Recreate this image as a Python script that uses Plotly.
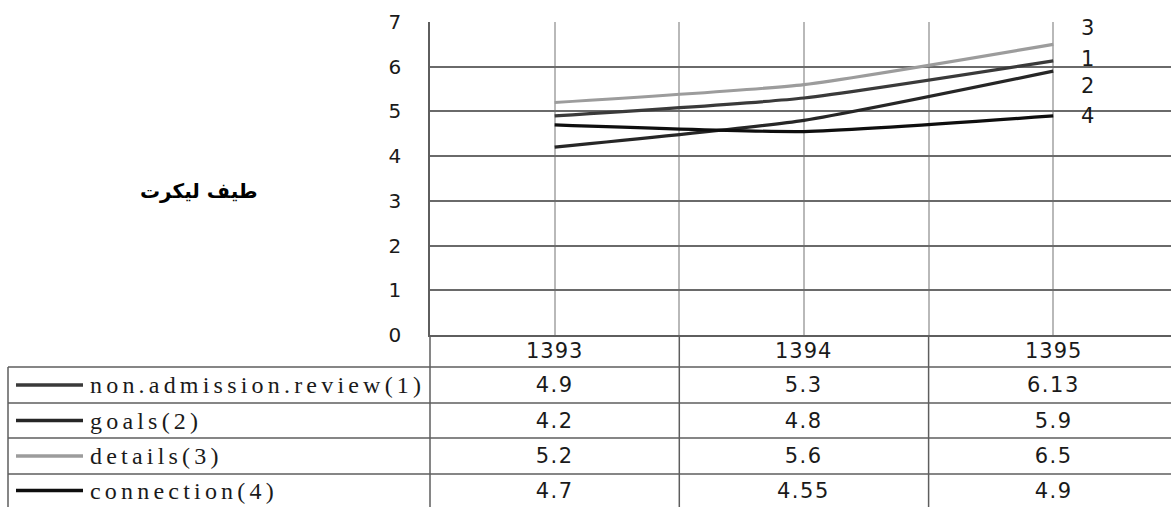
import json
import plotly.graph_objects as go

# ---- data -------------------------------------------------------------
years = ["1393", "1394", "1395"]
series_names = ["non.admission.review(1)", "goals(2)", "details(3)", "connection(4)"]
end_labels = ["1", "2", "3", "4"]
review = [4.9, 5.3, 6.13]
goals = [4.2, 4.8, 5.9]
details = [5.2, 5.6, 6.5]
connection = [4.7, 4.55, 4.9]
y_title = "طيف ليكرت"

series_values = [review, goals, details, connection]
colors = ["#3a3a3a", "#262626", "#9c9c9c", "#0e0e0e"]
# vertical nudge (px) of the end-of-line numbers so they do not collide
label_shift = [2, -15, 16, 0]

# ---- geometry helpers (pixel -> paper) -------------------------------
W, H = 1171, 507
L, T, R, B = 430, 22, 0, 172
PW = W - L - R
PH = H - T - B


def px(x):
    return (x - L) / PW


def py(y):
    return (H - B - y) / PH


xs = list(range(len(years)))
unit = 249.3
x_range = [-0.5, -0.5 + PW / unit]

fig = go.Figure()
for name, vals, col in zip(series_names, series_values, colors):
    fig.add_trace(go.Scatter(
        x=xs, y=vals, mode="lines", name=name,
        line=dict(color=col, width=3.2, shape="spline", smoothing=0.5),
        showlegend=False, hoverinfo="skip",
    ))

grid_dark = "#6a6a6a"
grid_light = "#b9b9b9"
table_col = "#5e5e5e"

shapes = []
# table horizontal rules (legend rows)
row_edges = [367, 403, 438, 474]
for yy in row_edges:
    shapes.append(dict(type="line", xref="paper", yref="paper",
                       x0=px(8), x1=1, y0=py(yy), y1=py(yy),
                       line=dict(color=table_col, width=1.5)))
# table verticals
shapes.append(dict(type="line", xref="paper", yref="paper",
                   x0=px(8), x1=px(8), y0=py(367), y1=py(H + 2),
                   line=dict(color=table_col, width=1.5)))
shapes.append(dict(type="line", xref="paper", yref="paper",
                   x0=0, x1=0, y0=py(H + 2), y1=0,
                   line=dict(color=table_col, width=1.5)))
for xb in [i + 0.5 for i in xs[:-1]]:
    shapes.append(dict(type="line", xref="x", yref="paper",
                       x0=xb, x1=xb, y0=py(H + 2), y1=0,
                       line=dict(color=table_col, width=1.5)))

# legend keys inside the table
row_centers = [385, 420.5, 456, 490.5]
for yc, col in zip(row_centers, colors):
    shapes.append(dict(type="line", xref="paper", yref="paper",
                       x0=px(16), x1=px(83), y0=py(yc), y1=py(yc),
                       line=dict(color=col, width=3.5)))

annotations = []
spacing = []
num_font = dict(family="DejaVu Sans", size=21, color="#1a1a1a")

# year header row
for xi, yr in zip(xs, years):
    annotations.append(dict(x=xi, y=py(351), xref="x", yref="paper",
                            text=yr, showarrow=False, font=num_font,
                            xanchor="center", yanchor="middle"))
    spacing.append(1)

# legend names and values
for yc, name, vals in zip(row_centers, series_names, series_values):
    annotations.append(dict(x=px(88), y=py(yc), xref="paper", yref="paper",
                            text=name, showarrow=False, align="left",
                            font=dict(family="Liberation Serif", size=24, color="#1a1a1a"),
                            xanchor="left", yanchor="middle"))
    spacing.append(4.2)
    for xi, v in zip(xs, vals):
        annotations.append(dict(x=xi, y=py(yc), xref="x", yref="paper",
                                text=f"{v:g}", showarrow=False, font=num_font,
                                xanchor="center", yanchor="middle"))
        spacing.append(1.5)

# series numbers at line ends
for lab, vals, dy in zip(end_labels, series_values, label_shift):
    annotations.append(dict(x=xs[-1], y=vals[-1], xref="x", yref="y",
                            text=lab, showarrow=False, font=num_font,
                            xshift=34, yshift=dy,
                            xanchor="center", yanchor="middle"))
    spacing.append(0)

# axis title
annotations.append(dict(x=px(199), y=py(191), xref="paper", yref="paper",
                        text=f"<b>{y_title}</b>", showarrow=False,
                        font=dict(family="DejaVu Sans", size=20, color="#000"),
                        xanchor="center", yanchor="middle"))
spacing.append(0)

fig.update_layout(
    width=W, height=H,
    margin=dict(l=L, r=R, t=T, b=B, pad=0),
    paper_bgcolor="white", plot_bgcolor="white",
    shapes=shapes, annotations=annotations,
    xaxis=dict(range=x_range, tick0=-0.5, dtick=0.5, showticklabels=False,
               ticks="", showgrid=True, gridcolor=grid_light, gridwidth=1.6,
               zeroline=False, showline=True, linecolor=table_col, linewidth=1.6,
               fixedrange=True),
    yaxis=dict(range=[0, 7], dtick=1, ticks="", showgrid=True,
               gridcolor=grid_dark, gridwidth=1.5, zeroline=False,
               showline=True, linecolor=table_col, linewidth=1.6,
               tickfont=dict(family="DejaVu Sans", size=20, color="#1a1a1a"),
               ticklabelstandoff=23, fixedrange=True),
)

post = """
var gd = document.getElementById('{plot_id}');
var sp = %s;
gd.querySelectorAll('g.annotation').forEach(function (g) {
  var i = +g.getAttribute('data-index');
  if (sp[i]) {
    var t = g.querySelector('text');
    if (t) { t.style.letterSpacing = sp[i] + 'px'; }
  }
});
""" % json.dumps(spacing)

fig.write_html("out.html", post_script=post, config={"displayModeBar": False})
